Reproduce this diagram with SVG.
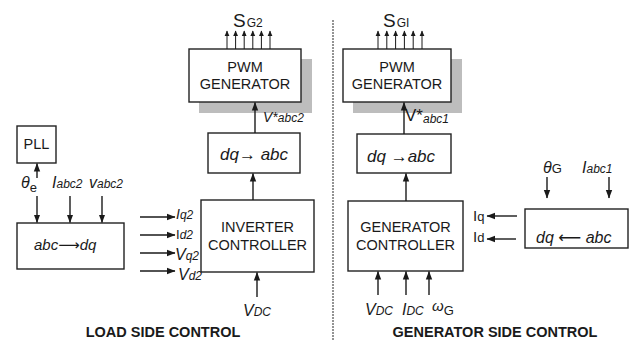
<svg xmlns="http://www.w3.org/2000/svg" width="643" height="340" viewBox="0 0 643 340">
<style>
text{font-family:"Liberation Sans",Arial,"DejaVu Sans",sans-serif;fill:#1a1a1a}
.box{fill:#fff;stroke:#222;stroke-width:1.4}
.sh{fill:#bdbdbd;stroke:none}
.bt{font-size:14.5px;text-anchor:middle}
.it{font-style:italic}
.ln{stroke:#1a1a1a;stroke-width:1.4;fill:none}
.thin{stroke:#1a1a1a;stroke-width:1;fill:none}
.title{font-size:14.5px;font-weight:bold;text-anchor:middle}
</style>
<defs>
<marker id="ah" markerUnits="userSpaceOnUse" markerWidth="9" markerHeight="8" refX="8" refY="4" orient="auto" viewBox="0 0 9 8">
<path d="M0,0.8 L8.5,4 L0,7.2 z" fill="#1a1a1a"/>
</marker>
<marker id="sah" markerUnits="userSpaceOnUse" markerWidth="6" markerHeight="6" refX="5" refY="3" orient="auto" viewBox="0 0 6 6">
<path d="M0,0.6 L5.5,3 L0,5.4 z" fill="#1a1a1a"/>
</marker>
</defs>

<!-- separator -->
<line x1="333" y1="20" x2="333" y2="340" stroke="#666" stroke-width="1.4" stroke-dasharray="2,1"/>

<g id="pll">
<rect class="box" x="17" y="126" width="39" height="37"/>
<text class="bt" x="36.5" y="149">PLL</text>
</g>

<g id="abc2dq-left">
<rect class="box" x="17" y="223" width="107" height="46"/>
<text x="34" y="250" font-size="15" class="it">abc⟶dq</text>
</g>

<g id="inverter-controller">
<rect class="box" x="201" y="200" width="113" height="72"/>
<text class="bt" x="257.5" y="232">INVERTER</text>
<text class="bt" x="257.5" y="249.5">CONTROLLER</text>
</g>

<g id="dq2abc-left">
<rect class="box" x="208" y="133" width="92" height="40"/>
<text x="220" y="160" font-size="17" class="it">dq→ abc</text>
</g>

<g id="pwm-left">
<rect class="sh" x="199" y="59" width="113" height="54"/>
<rect class="box" x="189" y="49" width="112" height="53"/>
<text class="bt" x="245" y="72">PWM</text>
<text class="bt" x="245" y="88.5">GENERATOR</text>
</g>

<g id="pwm-right">
<rect class="sh" x="353" y="59" width="109" height="54"/>
<rect class="box" x="343" y="49" width="108" height="53"/>
<text class="bt" x="397" y="72">PWM</text>
<text class="bt" x="397" y="88.5">GENERATOR</text>
</g>

<g id="dq2abc-right">
<rect class="box" x="357" y="134" width="94" height="39"/>
<text x="367" y="162" font-size="17" class="it">dq →abc</text>
</g>

<g id="generator-controller">
<rect class="box" x="348" y="201" width="115" height="70"/>
<text class="bt" x="405.5" y="232">GENERATOR</text>
<text class="bt" x="405.5" y="250">CONTROLLER</text>
</g>

<g id="abc2dq-right">
<rect class="box" x="525" y="209" width="103" height="39"/>
<text x="536" y="243" font-size="16" class="it">dq ⟵ abc</text>
</g>

<g id="connectors">
<!-- PLL -->
<line class="ln" x1="37" y1="178" x2="37" y2="163.5" marker-end="url(#ah)"/>
<line class="ln" x1="37" y1="196" x2="37" y2="222.5" marker-end="url(#ah)"/>
<line class="ln" x1="70" y1="196" x2="70" y2="222.5" marker-end="url(#ah)"/>
<line class="ln" x1="102" y1="196" x2="102" y2="222.5" marker-end="url(#ah)"/>
<!-- outputs of left abc->dq -->
<line class="ln" x1="140" y1="217" x2="175" y2="217" marker-end="url(#ah)"/>
<line class="ln" x1="140" y1="235" x2="175" y2="235" marker-end="url(#ah)"/>
<line class="ln" x1="140" y1="253" x2="175" y2="253" marker-end="url(#ah)"/>
<line class="ln" x1="140" y1="271" x2="175" y2="271" marker-end="url(#ah)"/>
<!-- inverter -->
<line class="ln" x1="253" y1="200" x2="253" y2="173.5" marker-end="url(#ah)"/>
<line class="ln" x1="257" y1="297" x2="257" y2="272.5" marker-end="url(#ah)"/>
<line class="ln" x1="255" y1="133" x2="255" y2="102.5" marker-end="url(#ah)"/>
<!-- SG2 -->
<line class="thin" x1="227" y1="49" x2="227" y2="31" marker-end="url(#sah)"/>
<line class="thin" x1="235.6" y1="49" x2="235.6" y2="31" marker-end="url(#sah)"/>
<line class="thin" x1="244.2" y1="49" x2="244.2" y2="31" marker-end="url(#sah)"/>
<line class="thin" x1="252.8" y1="49" x2="252.8" y2="31" marker-end="url(#sah)"/>
<line class="thin" x1="261.4" y1="49" x2="261.4" y2="31" marker-end="url(#sah)"/>
<line class="thin" x1="270" y1="49" x2="270" y2="31" marker-end="url(#sah)"/>
<!-- SGI -->
<line class="thin" x1="378" y1="49" x2="378" y2="31" marker-end="url(#sah)"/>
<line class="thin" x1="386.8" y1="49" x2="386.8" y2="31" marker-end="url(#sah)"/>
<line class="thin" x1="395.6" y1="49" x2="395.6" y2="31" marker-end="url(#sah)"/>
<line class="thin" x1="404.4" y1="49" x2="404.4" y2="31" marker-end="url(#sah)"/>
<line class="thin" x1="413.2" y1="49" x2="413.2" y2="31" marker-end="url(#sah)"/>
<line class="thin" x1="422" y1="49" x2="422" y2="31" marker-end="url(#sah)"/>
<!-- generator side -->
<line class="ln" x1="404" y1="134" x2="404" y2="102.5" marker-end="url(#ah)"/>
<line class="ln" x1="406" y1="201" x2="406" y2="173.5" marker-end="url(#ah)"/>
<line class="ln" x1="378" y1="295" x2="378" y2="271.5" marker-end="url(#ah)"/>
<line class="ln" x1="406" y1="295" x2="406" y2="271.5" marker-end="url(#ah)"/>
<line class="ln" x1="429" y1="295" x2="429" y2="271.5" marker-end="url(#ah)"/>
<line class="ln" x1="517" y1="216" x2="487" y2="216" marker-end="url(#ah)"/>
<line class="ln" x1="516" y1="239" x2="487" y2="239" marker-end="url(#ah)"/>
<line class="ln" x1="547" y1="177" x2="547" y2="198" marker-end="url(#ah)"/>
<line class="ln" x1="609" y1="177" x2="609" y2="198" marker-end="url(#ah)"/>
</g>

<g id="labels">
<text x="21" y="188" font-size="16" class="it">θ<tspan font-size="13" font-style="normal" dy="4">e</tspan></text>
<text x="52" y="188" font-size="16" class="it">I<tspan font-size="12">abc2</tspan></text>
<text x="89" y="188" font-size="16" class="it">v<tspan font-size="12">abc2</tspan></text>
<text x="176" y="219" font-size="14" class="it">I<tspan font-size="12">q2</tspan></text>
<text x="176" y="239" font-size="13">I<tspan font-size="12" class="it">d2</tspan></text>
<text x="175" y="260" font-size="16" class="it">V<tspan font-size="12">q2</tspan></text>
<text x="178" y="280" font-size="16" class="it">V<tspan font-size="12">d2</tspan></text>
<text x="243" y="316" font-size="16" class="it">V<tspan font-size="12">DC</tspan></text>
<text x="263" y="122" font-size="14" class="it">V*<tspan font-size="12">abc2</tspan></text>
<text x="233" y="27" font-size="19">S<tspan font-size="12" dx="1">G2</tspan></text>
<text x="383" y="27" font-size="19">S<tspan font-size="12" dx="1">GI</tspan></text>
<text x="405" y="121" font-size="17">V*<tspan font-size="12" class="it" dy="2">abc1</tspan></text>
<text x="365" y="315" font-size="16" class="it">V<tspan font-size="12">DC</tspan></text>
<text x="402" y="315" font-size="16" class="it">I<tspan font-size="12">DC</tspan></text>
<text x="432" y="311" font-size="15" class="it">ω<tspan font-size="13" font-style="normal" dy="4">G</tspan></text>
<text x="473" y="221" font-size="15">I<tspan font-size="13" dy="0">q</tspan></text>
<text x="473" y="242" font-size="15">I<tspan font-size="13">d</tspan></text>
<text x="543" y="173" font-size="16" class="it">θ<tspan font-size="13" font-style="normal">G</tspan></text>
<text x="582" y="173" font-size="16" class="it">I<tspan font-size="12">abc1</tspan></text>
<text class="title" x="163" y="337">LOAD SIDE CONTROL</text>
<text class="title" x="495" y="337">GENERATOR SIDE CONTROL</text>
</g>
</svg>
